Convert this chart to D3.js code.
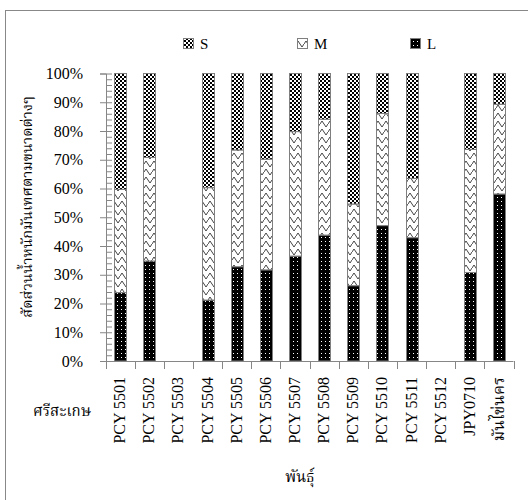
<!DOCTYPE html>
<html><head><meta charset="utf-8">
<script src="https://cdn.jsdelivr.net/npm/d3@7"></script>
<style>
html,body{margin:0;padding:0;background:#fff;}
svg{display:block;}
.serif{font-family:"Liberation Serif","Times New Roman",serif;}
.thai{font-family:"Noto Serif Thai","Noto Sans Thai","Loma","Garuda","Tlwg Typo","Noto Sans",sans-serif;}
</style>
</head><body>
<script>
const categories = ["PCY 5501","PCY 5502","PCY 5503","PCY 5504","PCY 5505","PCY 5506","PCY 5507","PCY 5508","PCY 5509","PCY 5510","PCY 5511","PCY 5512","JPY0710","มันไข่นคร"];
const seriesKeys = ["L","M","S"];
const valuesL = [23.8,34.8,0,21.2,32.8,31.7,36.5,43.8,26.2,47.1,42.9,0,30.8,58.1];
const valuesM = [35.9,36.0,0,39.1,40.6,38.5,43.3,40.3,28.4,39.0,20.6,0,42.8,31.2];
const valuesS = [40.3,29.2,0,39.7,26.6,29.8,20.2,15.9,45.4,13.9,36.5,0,26.4,10.7];
const yTicks = [0,10,20,30,40,50,60,70,80,90,100];
const yTitle = "สัดส่วนน้ำหนักมันเทศตามขนาดต่างๆ";
const xTitle = "พันธุ์";
const groupLabel = "ศรีสะเกษ";
const legendOrder = ["S","M","L"];

const W = 528, H = 500;
const svg = d3.select("body").append("svg").attr("width", W).attr("height", H);
svg.append("rect").attr("width", W).attr("height", H).attr("fill", "#fff");

const defs = svg.append("defs");
const pS = defs.append("pattern").attr("id","pS").attr("patternUnits","userSpaceOnUse").attr("width",4).attr("height",4);
pS.append("rect").attr("width",4).attr("height",4).attr("fill","#fff");
pS.append("rect").attr("x",0).attr("y",0).attr("width",2).attr("height",2).attr("fill","#000");
pS.append("rect").attr("x",2).attr("y",2).attr("width",2).attr("height",2).attr("fill","#000");
pS.append("rect").attr("x",1).attr("y",1).attr("width",1).attr("height",1).attr("fill","#000");
const pM = defs.append("pattern").attr("id","pM").attr("patternUnits","userSpaceOnUse").attr("width",8).attr("height",8);
pM.append("rect").attr("width",8).attr("height",8).attr("fill","#fff");
pM.append("path").attr("d","M0,4 L2,1 L6,7 L8,4").attr("fill","none").attr("stroke","#444").attr("stroke-width",1);
const pL = defs.append("pattern").attr("id","pL").attr("patternUnits","userSpaceOnUse").attr("width",4).attr("height",4);
pL.append("rect").attr("width",4).attr("height",4).attr("fill","#000");
pL.append("rect").attr("x",1).attr("y",1).attr("width",1).attr("height",1).attr("fill","#fff");
const fillOf = {S:"url(#pS)", M:"url(#pM)", L:"url(#pL)"};

svg.append("rect").attr("x",5.5).attr("y",10.5).attr("width",540).attr("height",520)
  .attr("fill","none").attr("stroke","#888").attr("stroke-width",1);

const x = d3.scaleBand().domain(categories).range([105.5, 513.5]).paddingInner(0.59).paddingOuter(0.295);
const y = d3.scaleLinear().domain([0,100]).range([361, 73.5]);

const rows = categories.map((c,i)=>({cat:c, L:valuesL[i], M:valuesM[i], S:valuesS[i]}));
const stacked = d3.stack().keys(seriesKeys)(rows);

const gBars = svg.append("g");
stacked.forEach(layer=>{
  gBars.append("g").selectAll("rect").data(layer.filter(d=>d[1]-d[0]>0)).join("rect")
    .attr("x", d=>Math.round(x(d.data.cat))+0.5)
    .attr("y", d=>y(d[1]))
    .attr("width", Math.round(x.bandwidth()))
    .attr("height", d=>y(d[0])-y(d[1]))
    .attr("fill", fillOf[layer.key])
    .attr("stroke","#7f7f7f").attr("stroke-width",1);
});

const axisColor = "#868686";
const yAxisL = d3.axisLeft(y).tickValues(yTicks).tickSize(6).tickPadding(17).tickFormat(d=>d+"%");
const gy = svg.append("g").attr("transform","translate(106,0)").call(yAxisL);
gy.select(".domain").attr("stroke",axisColor);
gy.selectAll(".tick line").attr("stroke",axisColor);
gy.selectAll(".tick text").attr("class","serif").attr("font-size",16).attr("fill","#000");
const minor = d3.range(0,101,2);
const yAxisR = d3.axisRight(y).tickValues(minor).tickSize(6).tickFormat("");
const gy2 = svg.append("g").attr("transform","translate(106,0)").call(yAxisR);
gy2.select(".domain").remove();
gy2.selectAll(".tick line").attr("stroke",axisColor);

const gx = svg.append("g");
gx.append("line").attr("x1",x.range()[0]).attr("x2",x.range()[1]).attr("y1",361.5).attr("y2",361.5).attr("stroke",axisColor);
const bounds = d3.range(categories.length+1).map(i=>x.range()[0]+i*x.step());
gx.selectAll("line.tk").data(bounds).join("line").attr("class","tk")
  .attr("x1",d=>Math.round(d)+0.5).attr("x2",d=>Math.round(d)+0.5).attr("y1",361).attr("y2",369).attr("stroke",axisColor);
gx.selectAll("text.lab").data(categories).join("text").attr("class",d=>/[\u0E00-\u0E7F]/.test(d)?"lab thai":"lab serif")
  .attr("transform",d=>`translate(${x(d)+x.bandwidth()/2+5},377) rotate(-90)`)
  .attr("text-anchor","end").attr("font-size",16).attr("fill","#000").text(d=>d);

svg.append("text").attr("class","thai").attr("x",62).attr("y",416).attr("text-anchor","middle")
  .attr("font-size",15).attr("fill","#000").text(groupLabel);
svg.append("text").attr("class","thai").attr("transform","translate(32,207) rotate(-90)")
  .attr("text-anchor","middle").attr("font-size",14.5).attr("fill","#000").text(yTitle);
svg.append("text").attr("class","thai").attr("x",300).attr("y",482).attr("text-anchor","middle")
  .attr("font-size",15).attr("fill","#000").text(xTitle);

const legX = {S:183, M:297, L:410};
const gl = svg.append("g");
legendOrder.forEach(k=>{
  gl.append("rect").attr("x",legX[k]+0.5).attr("y",38.5).attr("width",10).attr("height",10)
    .attr("fill",fillOf[k]).attr("stroke","#7f7f7f");
  gl.append("text").attr("class","serif").attr("x",legX[k]+17).attr("y",48.5).attr("font-size",15)
    .attr("fill","#000").text(k);
});
</script>
</body></html>
